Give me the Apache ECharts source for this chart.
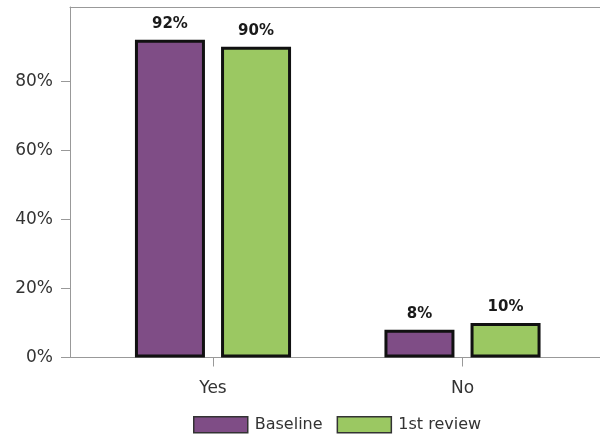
<!DOCTYPE html>
<html><head><meta charset="utf-8">
<script src="https://cdn.jsdelivr.net/npm/echarts@6/dist/echarts.min.js"></script>
<style>html,body{margin:0;padding:0;background:#fff}#c{width:600px;height:438px}</style>
</head><body><div id="c"></div>
<script>
const categories = ['Yes', 'No'];
const baseline = [92, 8];
const firstReview = [90, 10];
const yTickValues = [0, 20, 40, 60, 80];
const seriesNames = ['Baseline', '1st review'];

const FONT = 'DejaVu Sans';
const chart = echarts.init(document.getElementById('c'), null, {renderer: 'canvas'});
const labelCfg = {show: true, position: 'top', distance: 8, formatter: '{c}%', fontFamily: FONT, fontWeight: 'bold', fontSize: 15, color: '#1a1a1a'};
chart.setOption({
  animation: false,
  grid: [
    {left: 88.25, right: 12.75, top: 7, bottom: 80.5},
    {left: 70, right: 0, top: 7, bottom: 80.5}
  ],
  xAxis: [
    {gridIndex: 0, type: 'category', data: categories,
     axisLine: {show: false},
     axisTick: {show: true, alignWithLabel: true, length: 9, lineStyle: {color: '#999', width: 1}},
     axisLabel: {fontFamily: FONT, fontSize: 17, color: '#333', margin: 23}},
    {gridIndex: 1, type: 'category', data: [''], position: 'bottom',
     axisLine: {show: true, lineStyle: {color: '#999', width: 1}},
     axisTick: {show: false}, axisLabel: {show: false}},
    {gridIndex: 1, type: 'category', data: [''], position: 'top',
     axisLine: {show: true, lineStyle: {color: '#999', width: 1}},
     axisTick: {show: false}, axisLabel: {show: false}}
  ],
  yAxis: [
    {gridIndex: 0, type: 'value', min: 0, max: 101.5, show: false},
    {gridIndex: 1, type: 'value', min: 0, max: 101.5,
     axisLine: {show: true, lineStyle: {color: '#999', width: 1}},
     axisTick: {show: true, length: 9, customValues: yTickValues, lineStyle: {color: '#999'}},
     axisLabel: {customValues: yTickValues, formatter: '{value}%', fontFamily: FONT, fontSize: 17, color: '#333', margin: 17},
     splitLine: {show: false}}
  ],
  legend: {
    left: 193, top: 416, padding: 0, itemWidth: 54, itemHeight: 16, itemGap: 14, icon: 'rect',
    itemStyle: {borderWidth: 1.5, borderColor: '#333'},
    textStyle: {fontFamily: FONT, fontSize: 16, color: '#333', padding: [0, 0, 0, 2]},
    data: seriesNames
  },
  series: [
    {name: seriesNames[0], type: 'bar', xAxisIndex: 0, yAxisIndex: 0, data: baseline,
     barWidth: 70, barGap: '23%',
     itemStyle: {color: '#7f4d86', borderColor: '#111', borderWidth: 3},
     label: labelCfg},
    {name: seriesNames[1], type: 'bar', xAxisIndex: 0, yAxisIndex: 0, data: firstReview,
     barWidth: 70, barGap: '23%',
     itemStyle: {color: '#9bc862', borderColor: '#111', borderWidth: 3},
     label: labelCfg}
  ]
});
</script></body></html>
